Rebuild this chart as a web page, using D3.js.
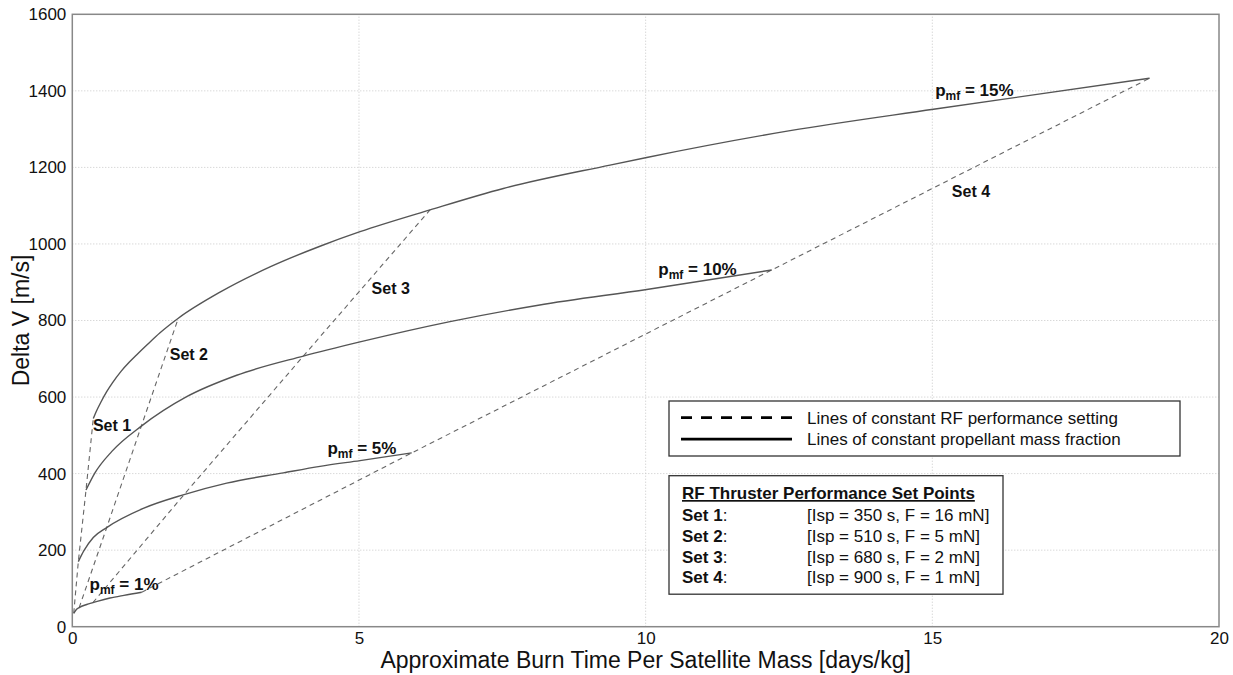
<!DOCTYPE html>
<html>
<head>
<meta charset="utf-8">
<script src="https://cdn.jsdelivr.net/npm/d3@7"></script>
<style>
  body { margin: 0; background: #fff; }
  svg { font-family: "Liberation Sans", Arial, sans-serif; }
</style>
</head>
<body>
<div id="chart"></div>
<script>
// Lines of constant propellant mass fraction: [burn time per mass (days/kg), delta V (m/s)]
const pmf1 = [[0.025, 35], [0.08, 46], [0.12, 50], [0.251, 58], [0.36, 63], [0.45, 67], [0.658, 75], [0.9, 82], [1.211, 90]];
const pmf5 = [[0.105, 170], [0.2, 198], [0.366, 233], [0.6, 259], [1.238, 309], [1.948, 345], [2.693, 375], [3.68, 402], [4.321, 419], [5.018, 434], [5.92, 454]];
const pmf10 = [[0.239, 357], [0.4, 403], [0.69, 458], [1.204, 524], [1.995, 601], [2.868, 657], [4.029, 707], [5.018, 744], [6.588, 797], [8.128, 840], [10.019, 881], [12.199, 932]];
const pmf15 = [[0.366, 544], [0.42, 563], [0.5, 587], [0.6, 614], [0.7, 637], [0.85, 667], [1.0, 692], [1.12, 710], [1.3, 736], [1.53, 768], [1.849, 806], [2.576, 874], [3.448, 940], [4.32, 994], [5.018, 1032], [6.239, 1089], [7.518, 1145], [9.378, 1206], [10.019, 1226], [12.52, 1296], [15.02, 1352], [18.79, 1433]];

// Lines of constant RF performance setting (points at pmf = 1, 5, 10, 15 %)
const set1 = [[0.025, 35], [0.105, 170], [0.239, 357], [0.366, 544]];
const set2 = [[0.12, 50], [0.6, 259], [1.204, 524], [1.849, 806]];
const set3 = [[0.36, 63], [1.948, 345], [4.029, 707], [6.239, 1089]];
const set4 = [[1.211, 90], [5.92, 454], [12.199, 932], [18.79, 1433]];

const pmfCurves = [pmf1, pmf5, pmf10, pmf15];
const setLines = [set1, set2, set3, set4];

// in-plot labels
const setLabels = [
  { text: 'Set 1', x: 0.36, v: 512 },
  { text: 'Set 2', x: 1.70, v: 697 },
  { text: 'Set 3', x: 5.22, v: 869 },
  { text: 'Set 4', x: 15.34, v: 1122 }
];
const pmfLabels = [
  { pct: '1%', x: 0.30, v: 96 },
  { pct: '5%', x: 4.45, v: 451 },
  { pct: '10%', x: 10.22, v: 919 },
  { pct: '15%', x: 15.05, v: 1386 }
];

const legendItems = ['Lines of constant RF performance setting', 'Lines of constant propellant mass fraction'];
const setPointTitle = 'RF Thruster Performance Set Points';
const setPointNames = ['Set 1', 'Set 2', 'Set 3', 'Set 4'];
const setPointValues = ['[Isp = 350 s, F = 16 mN]', '[Isp = 510 s, F = 5 mN]', '[Isp = 680 s, F = 2 mN]', '[Isp = 900 s, F = 1 mN]'];

const xTicks = [0, 5, 10, 15, 20];
const yTicks = [0, 200, 400, 600, 800, 1000, 1200, 1400, 1600];

const width = 1233, height = 675;
const margin = { left: 72.3, right: 14, top: 14.3, bottom: 48.3 };

const svg = d3.select('#chart').append('svg')
  .attr('width', width)
  .attr('height', height);

const x = d3.scaleLinear().domain([0, 20]).range([margin.left, width - margin.right]);
const y = d3.scaleLinear().domain([0, 1600]).range([height - margin.bottom, margin.top]);

// grid
svg.append('g')
  .selectAll('line')
  .data(xTicks.slice(1, -1))
  .join('line')
  .attr('x1', d => x(d)).attr('x2', d => x(d))
  .attr('y1', y(0)).attr('y2', y(1600))
  .attr('stroke', '#c8c8c8').attr('stroke-width', 1).attr('stroke-dasharray', '1,2');
svg.append('g')
  .selectAll('line')
  .data(yTicks.slice(1, -1))
  .join('line')
  .attr('x1', x(0)).attr('x2', x(20))
  .attr('y1', d => y(d)).attr('y2', d => y(d))
  .attr('stroke', '#c8c8c8').attr('stroke-width', 1).attr('stroke-dasharray', '1,2');

// axes (labels only)
const xAxis = svg.append('g')
  .attr('transform', `translate(0,${y(0)})`)
  .call(d3.axisBottom(x).tickValues(xTicks).tickSize(0).tickPadding(5).tickFormat(d3.format('d')));
const yAxis = svg.append('g')
  .attr('transform', `translate(${x(0)},0)`)
  .call(d3.axisLeft(y).tickValues(yTicks).tickSize(0).tickPadding(6).tickFormat(d3.format('d')));
[xAxis, yAxis].forEach(g => {
  g.select('.domain').remove();
  g.selectAll('text').attr('font-size', 17).attr('fill', '#111')
    .style('font-family', '"Liberation Sans", Arial, sans-serif');
});

// frame
svg.append('rect')
  .attr('x', x(0)).attr('y', y(1600))
  .attr('width', x(20) - x(0)).attr('height', y(0) - y(1600))
  .attr('fill', 'none').attr('stroke', '#888').attr('stroke-width', 1.5);

const line = d3.line().x(d => x(d[0])).y(d => y(d[1]));

svg.append('g')
  .selectAll('path')
  .data(setLines)
  .join('path')
  .attr('d', line)
  .attr('fill', 'none')
  .attr('stroke', '#666')
  .attr('stroke-width', 1.1)
  .attr('stroke-dasharray', '5,4');

svg.append('g')
  .selectAll('path')
  .data(pmfCurves)
  .join('path')
  .attr('d', line.curve(d3.curveMonotoneX))
  .attr('fill', 'none')
  .attr('stroke', '#555')
  .attr('stroke-width', 1.4);

// labels
svg.append('g')
  .selectAll('text')
  .data(setLabels)
  .join('text')
  .attr('x', d => x(d.x)).attr('y', d => y(d.v))
  .attr('font-size', 16).attr('font-weight', 'bold').attr('fill', '#111')
  .text(d => d.text);

const pl = svg.append('g')
  .selectAll('text')
  .data(pmfLabels)
  .join('text')
  .attr('x', d => x(d.x)).attr('y', d => y(d.v))
  .attr('font-size', 17).attr('font-weight', 'bold').attr('fill', '#111');
pl.append('tspan').text('p');
pl.append('tspan').attr('font-size', 12).attr('dy', 4).text('mf');
pl.append('tspan').attr('dy', -4).text(d => ' = ' + d.pct);

// axis titles
svg.append('text')
  .attr('x', (x(0) + x(20)) / 2).attr('y', 668)
  .attr('text-anchor', 'middle').attr('font-size', 23).attr('fill', '#111')
  .text('Approximate Burn Time Per Satellite Mass [days/kg]');
svg.append('text')
  .attr('transform', `translate(29,${(y(0) + y(1600)) / 2}) rotate(-90)`)
  .attr('text-anchor', 'middle').attr('font-size', 23).attr('fill', '#111')
  .text('Delta V [m/s]');

// legend 1: line styles
const lg = svg.append('g');
lg.append('rect')
  .attr('x', 669).attr('y', 401).attr('width', 511).attr('height', 55)
  .attr('fill', '#fff').attr('stroke', '#333').attr('stroke-width', 1.3);
legendItems.forEach((t, i) => {
  const yy = 417.7 + i * 21.5;
  lg.append('line')
    .attr('x1', 681).attr('x2', 792).attr('y1', yy).attr('y2', yy)
    .attr('stroke', '#000').attr('stroke-width', 2.7)
    .attr('stroke-dasharray', i === 0 ? '11,9' : null);
  lg.append('text')
    .attr('x', 807).attr('y', yy + 6)
    .attr('font-size', 17).attr('fill', '#111')
    .text(t);
});

// legend 2: set points
const sp = svg.append('g');
sp.append('rect')
  .attr('x', 669).attr('y', 475.7).attr('width', 334).attr('height', 118.5)
  .attr('fill', '#fff').attr('stroke', '#333').attr('stroke-width', 1.3);
sp.append('text')
  .attr('x', 682).attr('y', 499)
  .attr('font-size', 17).attr('font-weight', 'bold').attr('fill', '#111')
  .attr('text-decoration', 'underline')
  .text(setPointTitle);
setPointNames.forEach((n, i) => {
  const yy = 521 + i * 20.8;
  const t = sp.append('text').attr('x', 682).attr('y', yy).attr('font-size', 17).attr('fill', '#111');
  t.append('tspan').attr('font-weight', 'bold').text(n);
  t.append('tspan').text(':');
  sp.append('text').attr('x', 807).attr('y', yy).attr('font-size', 17).attr('fill', '#111')
    .text(setPointValues[i]);
});
</script>
</body>
</html>
